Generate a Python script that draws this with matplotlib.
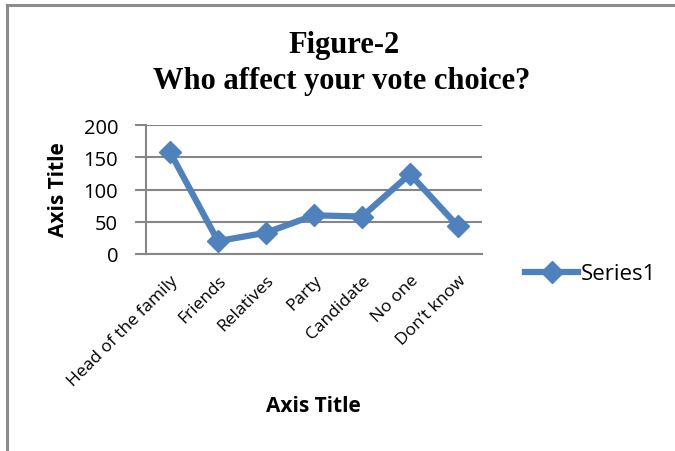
import matplotlib
matplotlib.use("Agg")
import matplotlib.pyplot as plt
from matplotlib.lines import Line2D

categories = ["Head of the family", "Friends", "Relatives", "Party", "Candidate", "No one", "Don\u2019t know"]
values = [158, 20, 33, 60, 58, 124, 43]
yticks = [0, 50, 100, 150, 200]
series_name = "Series1"

sans = ["Open Sans", "DejaVu Sans"]
blue = "#4F81BD"
grid = "#868686"

fig = plt.figure(figsize=(6.75, 4.52), dpi=100)
ax = fig.add_axes([146/675, 1-255/452, 336/675, 129/452])

x = list(range(len(categories)))
ax.plot(x, values, color=blue, lw=4.5, marker="D", ms=11.5, mfc=blue, mec=blue,
        solid_joinstyle="miter", label=series_name, clip_on=False, zorder=3)

ax.set_xlim(-0.5, len(categories) - 0.5)
ax.set_ylim(0, 200)
ax.set_yticks(yticks)
ax.set_yticklabels([str(v) for v in yticks], fontfamily=sans, fontsize=14.5)
ax.set_xticks(x)
ax.set_xticklabels(categories, rotation=45, ha="right", rotation_mode="anchor",
                   fontfamily=sans, fontsize=12.5)
ax.tick_params(axis="x", length=0, pad=13)
ax.tick_params(axis="y", length=8, width=1.5, color=grid, pad=12)
for s in ["top", "right"]:
    ax.spines[s].set_visible(False)
ax.spines["left"].set_color(grid)
ax.spines["left"].set_linewidth(1.5)
ax.spines["bottom"].set_color(grid)
ax.spines["bottom"].set_linewidth(1.5)
ax.yaxis.grid(True, color=grid, lw=1.5)
ax.set_axisbelow(True)

fig.text(59/675, 1-190/452, "Axis Title", rotation=90, ha="center", va="center",
         fontfamily=sans, fontweight="bold", fontsize=15)
fig.text(313/675, 1-407/452, "Axis Title", ha="center", va="center",
         fontfamily=sans, fontweight="bold", fontsize=15)
fig.text(344/675, 1-45/452, "Figure-2", ha="center", va="center",
         fontfamily="Liberation Serif", fontweight="bold", fontsize=22)
fig.text(342/675, 1-81/452, "Who affect your vote choice?", ha="center", va="center",
         fontfamily="Liberation Serif", fontweight="bold", fontsize=22)

handle = Line2D([0], [0], color=blue, lw=4.5, marker="D", ms=11.5, mfc=blue, mec=blue)
fig.legend([handle], [series_name], loc="center left", bbox_to_anchor=(514/675, 1-275/452),
           frameon=False, prop={"family": sans, "size": 16}, handlelength=2.4,
           handletextpad=0.1, borderpad=0)

# outer frame (left & top visible)
fig.add_artist(Line2D([7/675, 7/675], [0, 1-6/452], transform=fig.transFigure, color="#8c8c8c", lw=2.2))
fig.add_artist(Line2D([7/675, 1], [1-6/452, 1-6/452], transform=fig.transFigure, color="#8c8c8c", lw=2.2))

fig.savefig("out.png", dpi=100)
